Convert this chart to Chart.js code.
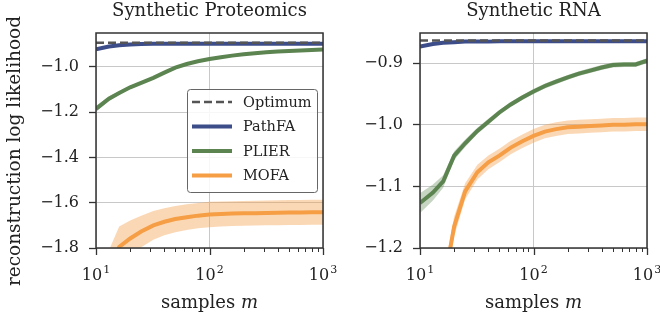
<!DOCTYPE html>
<html>
<head>
<meta charset="utf-8">
<script src="https://cdn.jsdelivr.net/npm/chart.js@4"></script>
<style>
  body { margin: 0; background: #fff; }
  #wrap { position: relative; width: 660px; height: 316px; overflow: hidden; }
  canvas { position: absolute; top: 0; }
</style>
</head>
<body>
<div id="wrap">
  <canvas id="prot" width="345" height="316" style="left:0"></canvas>
  <canvas id="rna" width="330" height="316" style="left:330px"></canvas>
</div>
<script>
// sample sizes (x axis, log scale)
const samples = [10, 13, 16, 20, 25, 32, 40, 50, 63, 79, 100, 126, 158, 200, 251, 316, 398, 501, 631, 794, 1000];

// x ticks: majors get labels (base + exponent), the rest are minor marks
const xMajor = [10, 100, 1000];
const xMinor = [20, 30, 40, 50, 60, 70, 80, 90, 200, 300, 400, 500, 600, 700, 800, 900];
const xTickBase = ['10', '10', '10'];
const xTickExp = ['1', '2', '3'];

// Synthetic Proteomics
const protYTicks = [-1.8, -1.6, -1.4, -1.2, -1.0];
const protOptimum = -0.893;
const protPathFA = [-0.922, -0.910, -0.904, -0.901, -0.899, -0.898, -0.898, -0.897, -0.897, -0.897, -0.897, -0.897, -0.897, -0.897, -0.897, -0.897, -0.897, -0.897, -0.897, -0.897, -0.897];
const protPathFAErr = [0.004, 0.003, 0.002, 0.002, 0.002, 0.002, 0.002, 0.002, 0.002, 0.002, 0.002, 0.002, 0.002, 0.002, 0.002, 0.002, 0.002, 0.002, 0.002, 0.002, 0.002];
const protPlier = [-1.185, -1.140, -1.115, -1.090, -1.070, -1.048, -1.025, -1.003, -0.987, -0.975, -0.965, -0.957, -0.950, -0.944, -0.939, -0.935, -0.932, -0.929, -0.927, -0.925, -0.923];
const protPlierErr = [0.012, 0.010, 0.008, 0.007, 0.006, 0.005, 0.005, 0.004, 0.004, 0.004, 0.004, 0.004, 0.004, 0.004, 0.004, 0.004, 0.004, 0.004, 0.004, 0.004, 0.004];
const protMofa = [-2.200, -1.930, -1.795, -1.758, -1.727, -1.700, -1.684, -1.672, -1.664, -1.657, -1.652, -1.650, -1.648, -1.647, -1.646, -1.645, -1.644, -1.643, -1.643, -1.642, -1.642];
const protMofaErr = [0.15, 0.12, 0.09, 0.08, 0.07, 0.063, 0.06, 0.058, 0.057, 0.056, 0.056, 0.055, 0.055, 0.055, 0.055, 0.055, 0.055, 0.055, 0.055, 0.055, 0.055];

// Synthetic RNA
const rnaYTicks = [-1.2, -1.1, -1.0, -0.9];
const rnaOptimum = -0.863;
const rnaPathFA = [-0.873, -0.869, -0.867, -0.866, -0.865, -0.865, -0.865, -0.8645, -0.8645, -0.8645, -0.8645, -0.8645, -0.8645, -0.8645, -0.8645, -0.8645, -0.8645, -0.8645, -0.8645, -0.8645, -0.8645];
const rnaPathFAErr = [0.002, 0.002, 0.001, 0.001, 0.001, 0.001, 0.001, 0.001, 0.001, 0.001, 0.001, 0.001, 0.001, 0.001, 0.001, 0.001, 0.001, 0.001, 0.001, 0.001, 0.001];
const rnaPlier = [-1.127, -1.110, -1.092, -1.050, -1.030, -1.010, -0.995, -0.980, -0.967, -0.956, -0.946, -0.937, -0.930, -0.923, -0.917, -0.912, -0.907, -0.903, -0.902, -0.902, -0.896];
const rnaPlierErr = [0.016, 0.013, 0.010, 0.007, 0.006, 0.005, 0.005, 0.004, 0.004, 0.004, 0.004, 0.004, 0.004, 0.004, 0.004, 0.004, 0.004, 0.004, 0.004, 0.004, 0.004];
const rnaMofa = [-1.550, -1.380, -1.265, -1.165, -1.108, -1.077, -1.061, -1.050, -1.037, -1.027, -1.018, -1.011, -1.007, -1.004, -1.003, -1.002, -1.001, -1.000, -1.000, -0.999, -0.999];
const rnaMofaErr = [0.030, 0.025, 0.020, 0.016, 0.013, 0.012, 0.011, 0.011, 0.011, 0.011, 0.011, 0.011, 0.011, 0.011, 0.011, 0.011, 0.011, 0.011, 0.011, 0.011, 0.011];

const FONT = "'DejaVu Serif', serif";
const INK = '#222';
const colors = {
    Optimum: '#555555',
    PathFA:  '#3c4d89',
    PLIER:   '#5c8450',
    MOFA:    '#f59e45'
};
const bandColors = {
    PathFA: 'rgba(60, 77, 137, 0.3)',
    PLIER:  'rgba(92, 132, 80, 0.35)',
    MOFA:   'rgba(245, 158, 69, 0.4)'
};

function pts(ys) { return samples.map((x, i) => ({ x: x, y: ys[i] })); }

// line + shaded band (lower, upper filled to lower)
function series(name, mean, err, order) {
    return [
        { label: name, data: pts(mean), borderColor: colors[name], borderWidth: 4,
          pointRadius: 0, fill: false, order: order, inLegend: true },
        { data: pts(mean.map((v, i) => v - err[i])), borderWidth: 0, pointRadius: 0,
          fill: false, order: 10 },
        { data: pts(mean.map((v, i) => v + err[i])), borderWidth: 0, pointRadius: 0,
          fill: '-1', backgroundColor: bandColors[name], order: 10 }
    ];
}

function optimumSet(y) {
    return { label: 'Optimum', data: [{ x: 10, y: y }, { x: 1000, y: y }],
             borderColor: colors.Optimum, borderWidth: 2.5, borderDash: [8, 4],
             pointRadius: 0, fill: false, order: 0, inLegend: true };
}

function fmtY(v) {
    return (v < 0 ? '\u2212' : '') + Math.abs(v).toFixed(1);
}

// spines, x tick marks and labels, titles, axis labels, legend
const decorPlugin = {
    id: 'decor',
    afterDraw(chart, args, opts) {
        const ctx = chart.ctx;
        const a = chart.chartArea;
        const xs = chart.scales.x;
        ctx.save();

        // x tick marks
        ctx.strokeStyle = '#333';
        xMajor.concat(xMinor).forEach(v => {
            const px = Math.round(xs.getPixelForValue(v)) + 0.5;
            const major = xMajor.includes(v);
            ctx.lineWidth = major ? 1.3 : 1;
            ctx.beginPath();
            ctx.moveTo(px, a.bottom);
            ctx.lineTo(px, a.bottom + (major ? 7 : 4));
            ctx.stroke();
        });

        // x tick labels: 10 with raised exponent
        ctx.fillStyle = INK;
        ctx.textBaseline = 'alphabetic';
        ctx.textAlign = 'left';
        xMajor.forEach((v, i) => {
            const px = xs.getPixelForValue(v);
            ctx.font = '16px ' + FONT;
            const wb = ctx.measureText(xTickBase[i]).width;
            ctx.font = '11px ' + FONT;
            const we = ctx.measureText(xTickExp[i]).width;
            const x0 = px - (wb + we + 1) / 2;
            ctx.font = '16px ' + FONT;
            ctx.fillText(xTickBase[i], x0, 280);
            ctx.font = '11px ' + FONT;
            ctx.fillText(xTickExp[i], x0 + wb + 1, 273);
        });

        // frame
        ctx.lineWidth = 1.5;
        ctx.strokeStyle = '#333';
        ctx.strokeRect(a.left, a.top, a.right - a.left, a.bottom - a.top);

        // title
        const cx = (a.left + a.right) / 2;
        ctx.fillStyle = INK;
        ctx.textAlign = 'center';
        ctx.textBaseline = 'alphabetic';
        ctx.font = '18px ' + FONT;
        ctx.fillText(opts.title, cx, 16);

        // x label: "samples m"
        const t1 = 'samples ';
        const t2 = 'm';
        ctx.font = '18px ' + FONT;
        const w1 = ctx.measureText(t1).width;
        ctx.font = 'italic 18px ' + FONT;
        const w2 = ctx.measureText(t2).width;
        const x0 = cx - (w1 + w2) / 2;
        ctx.textAlign = 'left';
        ctx.font = '18px ' + FONT;
        ctx.fillText(t1, x0, 308);
        ctx.font = 'italic 18px ' + FONT;
        ctx.fillText(t2, x0 + w1, 308);

        // y label
        if (opts.yLabel) {
            ctx.save();
            ctx.translate(15, 151);
            ctx.rotate(-Math.PI / 2);
            ctx.textAlign = 'center';
            ctx.textBaseline = 'middle';
            ctx.font = '18.5px ' + FONT;
            ctx.fillText(opts.yLabel, 0, 0);
            ctx.restore();
        }

        // legend
        if (opts.legend) {
            const items = chart.data.datasets.filter(d => d.inLegend);
            const bw = 130, bh = 103;
            const bx = a.right - 6 - bw, by = a.top + 56;
            ctx.beginPath();
            ctx.roundRect(bx + 0.5, by + 0.5, bw, bh, 3);
            ctx.fillStyle = 'rgba(255,255,255,0.85)';
            ctx.fill();
            ctx.lineWidth = 1;
            ctx.strokeStyle = '#666';
            ctx.stroke();
            items.forEach((d, i) => {
                const ry = by + 13 + i * 24.5;
                ctx.beginPath();
                ctx.strokeStyle = d.borderColor;
                ctx.lineWidth = d.borderWidth;
                ctx.setLineDash(d.borderDash || []);
                ctx.moveTo(bx + 5, ry);
                ctx.lineTo(bx + 45, ry);
                ctx.stroke();
                ctx.setLineDash([]);
                ctx.fillStyle = INK;
                ctx.font = '14.5px ' + FONT;
                ctx.textAlign = 'left';
                ctx.textBaseline = 'middle';
                ctx.fillText(d.label, bx + 56, ry + 1);
            });
        }
        ctx.restore();
    }
};

function makeChart(id, cfg) {
    return new Chart(document.getElementById(id), {
        type: 'line',
        data: { datasets: cfg.datasets },
        options: {
            responsive: false,
            animation: false,
            layout: { padding: { top: 33, right: cfg.padRight, bottom: 0, left: 0 } },
            scales: {
                x: {
                    type: 'logarithmic',
                    min: 10,
                    max: 1000,
                    afterBuildTicks: s => { s.ticks = xMajor.concat(xMinor).sort((p, q) => p - q).map(v => ({ value: v })); },
                    afterFit: s => { s.height = 68; },
                    ticks: { display: false },
                    grid: {
                        drawTicks: false,
                        color: c => (c.tick && xMajor.includes(c.tick.value)) ? '#c8c8c8' : 'rgba(0,0,0,0)',
                        lineWidth: 1
                    },
                    border: { display: false }
                },
                y: {
                    min: cfg.yMin,
                    max: cfg.yMax,
                    afterBuildTicks: s => { s.ticks = cfg.yTicks.map(v => ({ value: v })); },
                    afterFit: s => { s.width = cfg.yWidth; },
                    ticks: {
                        padding: 10,
                        color: INK,
                        font: { family: FONT, size: 16 },
                        callback: v => fmtY(v)
                    },
                    grid: {
                        color: '#c8c8c8',
                        lineWidth: 1,
                        tickColor: '#333',
                        tickLength: 7,
                        tickWidth: 1.3
                    },
                    border: { display: false }
                }
            },
            plugins: {
                legend: { display: false },
                tooltip: { enabled: false },
                decor: { title: cfg.title, yLabel: cfg.yLabel, legend: cfg.legend }
            }
        },
        plugins: [decorPlugin]
    });
}

makeChart('prot', {
    title: 'Synthetic Proteomics',
    yLabel: 'reconstruction log likelihood',
    legend: true,
    yMin: -1.8, yMax: -0.85, yTicks: protYTicks,
    yWidth: 96, padRight: 22,
    datasets: [optimumSet(protOptimum)]
        .concat(series('PathFA', protPathFA, protPathFAErr, 1))
        .concat(series('PLIER', protPlier, protPlierErr, 2))
        .concat(series('MOFA', protMofa, protMofaErr, 3))
});

makeChart('rna', {
    title: 'Synthetic RNA',
    yLabel: null,
    legend: false,
    yMin: -1.2, yMax: -0.851, yTicks: rnaYTicks,
    yWidth: 90, padRight: 13,
    datasets: [optimumSet(rnaOptimum)]
        .concat(series('PathFA', rnaPathFA, rnaPathFAErr, 1))
        .concat(series('PLIER', rnaPlier, rnaPlierErr, 2))
        .concat(series('MOFA', rnaMofa, rnaMofaErr, 3))
});
</script>
</body>
</html>
